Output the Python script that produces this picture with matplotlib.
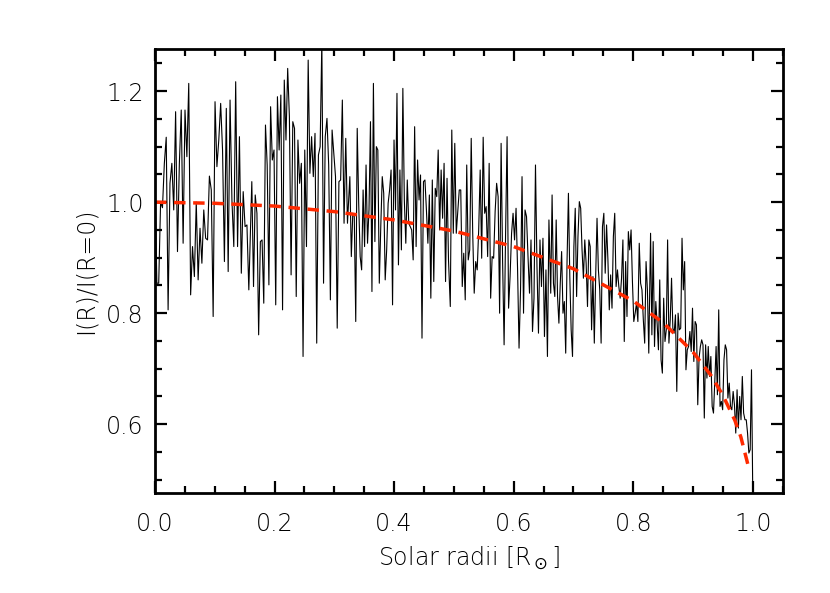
import numpy as np
import matplotlib
matplotlib.use('Agg')
import matplotlib.pyplot as plt
from matplotlib.ticker import MultipleLocator

seg_bounds = [(0.0, 0.157), (0.162, 0.322), (0.326, 0.491),
              (0.494, 0.659), (0.662, 0.826), (0.829, 1.0)]

seg1 = [1.04, 0.854, 0.854, 1.0, 0.99, 1.07, 1.117, 0.806, 1.034, 1.07, 0.986, 1.163,
        0.911, 1.07, 1.166, 0.926, 1.166, 1.082, 1.214, 0.833, 0.92, 0.866, 1.0, 0.86,
        0.953, 0.89, 0.986, 0.935, 0.932, 1.047, 1.022, 0.794, 1.181, 1.064, 1.112, 1.178,
        1.094, 0.893, 1.169, 0.875, 1.184, 1.004, 0.92, 1.217, 0.92, 1.118, 0.872, 1.019,
        0.956, 0.959, 0.842]
seg2 = [1.037, 0.848, 1.013, 0.98, 0.761, 0.929, 0.932, 0.818, 1.139, 1.067, 0.851, 1.172,
        1.076, 1.094, 0.815, 1.19, 1.094, 1.193, 0.806, 1.22, 1.112, 1.241, 1.154, 0.869,
        1.145, 1.133, 0.83, 1.112, 1.034, 1.07, 0.722, 1.094, 0.92, 1.256, 1.052, 1.118,
        1.046, 1.124, 0.746, 1.085, 1.1, 1.29, 0.854, 1.118, 1.151, 1.067, 0.824, 1.13,
        1.088, 1.046, 0.773, 1.037, 1.04, 1.184, 0.962, 1.115, 0.962]
seg3 = [1.046, 0.902, 0.98, 0.974, 0.785, 1.133, 0.998, 0.902, 0.878, 1.022, 0.92, 1.067,
        0.926, 0.986, 1.145, 0.839, 1.214, 0.929, 1.1, 1.094, 0.854, 0.956, 1.046, 1.016,
        0.86, 0.914, 0.998, 1.022, 1.058, 0.815, 1.112, 0.986, 1.196, 0.887, 1.058, 0.914,
        1.205, 1.004, 0.926, 1.04, 0.962, 0.956, 0.95, 0.896, 1.136, 0.92, 1.076, 1.004,
        1.049, 0.755, 1.037, 1.04, 0.986, 0.926, 1.013, 0.827, 1.04, 0.857, 1.025, 1.01,
        1.094, 0.95, 1.058, 0.971, 1.07, 0.857, 1.043, 0.896]
seg4 = [0.812, 1.13, 0.944, 1.106, 0.944, 0.983, 1.022, 1.022, 0.848, 0.908, 0.824, 1.067,
        0.896, 0.914, 1.115, 0.944, 0.836, 0.893, 0.878, 0.95, 1.058, 0.899, 1.117, 0.98,
        0.992, 0.902, 1.07, 0.827, 0.902, 0.899, 0.983, 1.034, 1.01, 0.8, 1.106, 0.893,
        0.743, 0.944, 1.118, 0.809, 0.866, 0.944, 0.98, 0.932, 0.989, 0.881, 0.737, 0.842,
        1.046, 0.8, 0.986, 0.974, 0.902, 0.836, 0.932, 0.767, 0.827, 1.067, 0.884, 0.764,
        0.932, 0.848, 0.935, 0.758, 0.878, 0.722, 0.968]
seg5 = [0.836, 1.013, 0.854, 0.83, 0.968, 0.83, 0.782, 0.854, 0.911, 0.8, 0.821, 0.728,
        0.896, 1.016, 0.866, 0.77, 0.722, 0.92, 0.989, 0.83, 0.938, 1.001, 0.989, 0.914,
        0.863, 0.932, 0.89, 0.812, 0.932, 0.92, 0.77, 0.866, 0.746, 0.866, 0.971, 0.878,
        0.842, 0.746, 0.956, 0.98, 0.872, 0.959, 0.896, 0.806, 0.869, 0.809, 0.938, 0.98,
        0.848, 0.878, 0.848, 0.827, 0.863, 0.932, 0.749, 0.893, 0.794, 0.947, 0.914, 0.95,
        0.857, 0.785, 0.8, 0.818, 0.785, 0.926, 0.854, 0.842, 0.788, 0.746, 0.893, 0.842,
        0.728]
seg6 = [0.944, 0.761, 0.929, 0.74, 0.821, 0.782, 0.734, 0.86, 0.716, 0.692, 0.827, 0.749,
        0.77, 0.932, 0.746, 0.788, 0.863, 0.773, 0.764, 0.797, 0.659, 0.8, 0.77, 0.773,
        0.935, 0.842, 0.893, 0.698, 0.734, 0.74, 0.767, 0.731, 0.809, 0.713, 0.785, 0.779,
        0.635, 0.719, 0.74, 0.752, 0.743, 0.611, 0.743, 0.683, 0.74, 0.686, 0.722, 0.632,
        0.62, 0.677, 0.74, 0.653, 0.806, 0.632, 0.641, 0.626, 0.716, 0.743, 0.734, 0.647,
        0.674, 0.632, 0.626, 0.659, 0.635, 0.584, 0.662, 0.593, 0.65, 0.608, 0.686, 0.62,
        0.608, 0.608, 0.584, 0.548, 0.554, 0.698, 0.47]

# Limb darkening fit (red dashed)
fit_r = [0.0, 0.1, 0.2, 0.3, 0.4, 0.5, 0.6, 0.7, 0.8, 0.85, 0.9, 0.93, 0.95, 0.97,
         0.98, 0.99, 0.993]
fit_i = [1.0, 0.998, 0.993, 0.983, 0.968, 0.948, 0.92, 0.88, 0.822, 0.783, 0.73,
         0.688, 0.652, 0.607, 0.577, 0.535, 0.522]

segments = [seg1, seg2, seg3, seg4, seg5, seg6]
radius = np.concatenate([np.linspace(a, b, len(s)) for (a, b), s in zip(seg_bounds, segments)])
intensity = np.concatenate(segments)

fig = plt.figure(figsize=(8.3, 5.93), dpi=100)
ax = fig.add_axes([0.1867, 0.1686, 0.7563, 0.7488])

ax.plot(radius, intensity, color='black', linewidth=0.8)
ax.plot(fit_r, fit_i, color='#ff2a00', linewidth=2.5, dashes=(3.3, 2.2))

ax.set_xlim(0, 1.05)
ax.set_ylim(0.476, 1.276)
ax.xaxis.set_major_locator(MultipleLocator(0.2))
ax.xaxis.set_minor_locator(MultipleLocator(0.05))
ax.yaxis.set_major_locator(MultipleLocator(0.2))
ax.yaxis.set_minor_locator(MultipleLocator(0.05))
ax.xaxis.set_major_formatter(matplotlib.ticker.FormatStrFormatter('%.1f'))
ax.yaxis.set_major_formatter(matplotlib.ticker.FormatStrFormatter('%.1f'))

for s in ax.spines.values():
    s.set_linewidth(2)
ax.tick_params(which='both', direction='in', top=True, right=True, width=1.6)
ax.tick_params(which='major', length=8.5)
ax.tick_params(which='minor', length=4.8)
ax.tick_params(axis='x', which='major', pad=14)
ax.tick_params(axis='y', which='major', pad=8)

for lab in ax.get_xticklabels() + ax.get_yticklabels():
    lab.set_fontsize(17)
    lab.set_fontweight('light')
    lab.set_color('black')

ax.set_xlabel(r'Solar radii [R$_\odot$]', fontsize=17, fontweight='light', color='black', labelpad=6)
ax.set_ylabel('I(R)/I(R=0)', fontsize=17, fontweight='light', color='black', labelpad=6)

fig.savefig('out.png', dpi=100)
